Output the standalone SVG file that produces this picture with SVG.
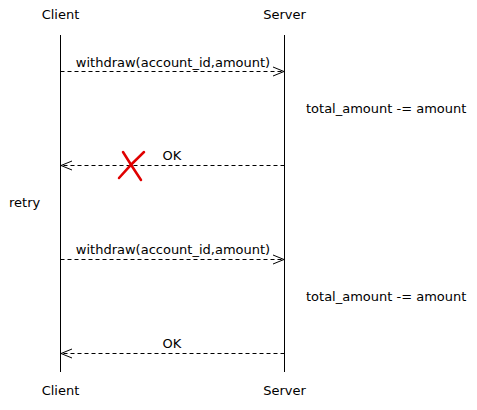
<svg xmlns="http://www.w3.org/2000/svg" width="477" height="410" viewBox="0 0 477 410">
<style>
text{font-family:"DejaVu Sans",sans-serif;font-size:13px;fill:#000}
.life{stroke:#000;stroke-width:1;fill:none}
.msg{stroke:#000;stroke-width:1;fill:none;stroke-dasharray:4,3}
.head{stroke:#000;stroke-width:1;fill:none}
.x{stroke:#e00000;stroke-width:2.5;fill:none;stroke-linecap:round}
</style>
<rect width="477" height="410" fill="#fff"/>
<g id="client">
<text x="60.5" y="19" text-anchor="middle">Client</text>
<line class="life" x1="60.5" y1="35" x2="60.5" y2="372"/>
<text x="60.5" y="395" text-anchor="middle">Client</text>
</g>
<g id="server">
<text x="284.5" y="19" text-anchor="middle">Server</text>
<line class="life" x1="284.5" y1="35" x2="284.5" y2="372"/>
<text x="284.5" y="395" text-anchor="middle">Server</text>
</g>
<g id="notes">
<text x="306" y="113">total_amount -= amount</text>
<text x="9" y="207">retry</text>
<text x="306" y="301">total_amount -= amount</text>
</g>
<g id="connectors">
<line class="msg" x1="60.5" y1="71.5" x2="284" y2="71.5"/>
<path class="head" d="M273,67 L284,71.5 L273,76"/>
<text x="173" y="67" text-anchor="middle">withdraw(account_id,amount)</text>
<line class="msg" x1="284.5" y1="165.5" x2="61" y2="165.5"/>
<path class="head" d="M72,161 L61,165.5 L72,170"/>
<text x="172" y="160" text-anchor="middle">OK</text>
<line class="msg" x1="60.5" y1="259.5" x2="284" y2="259.5"/>
<path class="head" d="M273,255 L284,259.5 L273,264"/>
<text x="173" y="254" text-anchor="middle">withdraw(account_id,amount)</text>
<line class="msg" x1="284.5" y1="353.5" x2="61" y2="353.5"/>
<path class="head" d="M72,349 L61,353.5 L72,358"/>
<text x="172" y="348" text-anchor="middle">OK</text>
</g>
<g id="failure">
<path class="x" d="M123,152 Q131,165 141,180"/>
<path class="x" d="M144,152 Q131,164 119,178"/>
</g>
</svg>
